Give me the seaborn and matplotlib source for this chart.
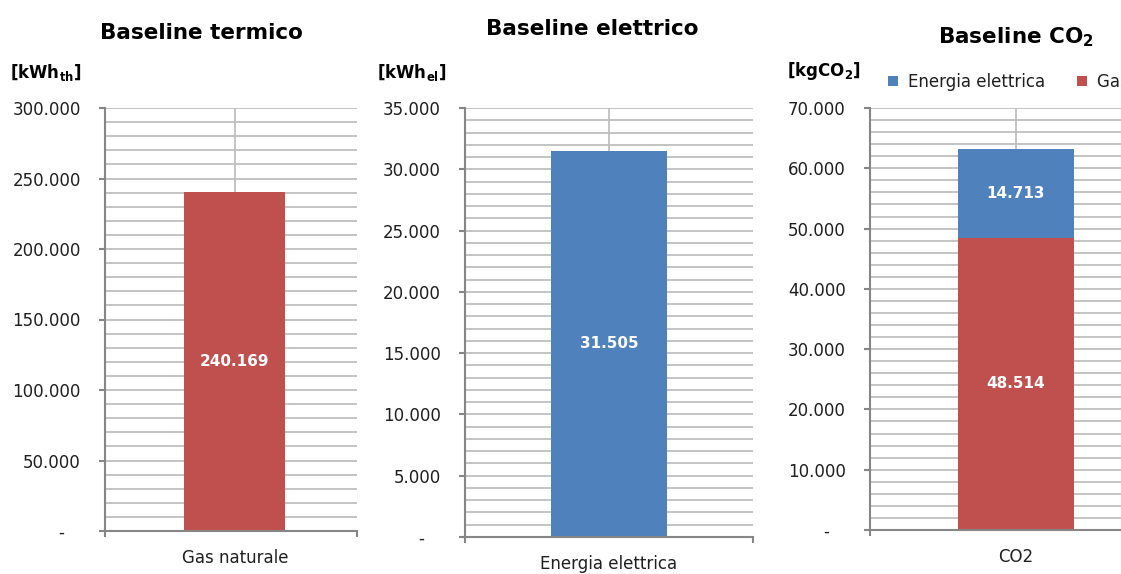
import matplotlib
matplotlib.use("Agg")
import matplotlib.pyplot as plt
from matplotlib.ticker import MultipleLocator, FuncFormatter
from matplotlib.patches import Patch
import seaborn as sns
import pandas as pd

# ---- data -------------------------------------------------------------
thermal_cat = ["Gas naturale"]
thermal_kwh = [240169]

electric_cat = ["Energia elettrica"]
electric_kwh = [31505]

co2_cat = ["CO2"]
co2_gas = [48514]
co2_electric = [14713]

legend_labels = ["Energia elettrica", "Gas naturale"]

# ---- style ------------------------------------------------------------
sns.set_theme(style="white")
plt.rcParams["font.family"] = ["DejaVu Sans"]
plt.rcParams["mathtext.fontset"] = "dejavusans"

RED = "#C0504D"
BLUE = "#4F81BD"
GRID = "#BFBFBF"
AXIS = "#868686"
TEXT = "#1F1F1F"

W, H = 1121, 574
fig = plt.figure(figsize=(W / 100, H / 100), dpi=100)
fig.patch.set_facecolor("white")


def px_axes(left, right, top, bottom):
    return fig.add_axes([left / W, 1 - bottom / H, (right - left) / W, (bottom - top) / H])


def it_fmt(v, pos=None):
    if abs(v) < 1e-9:
        return "-   "
    return f"{v:,.0f}".replace(",", ".")


def style_axes(ax, ymax, major, minor, xlim):
    ax.set_ylim(0, ymax)
    ax.set_xlim(*xlim)
    ax.yaxis.set_major_locator(MultipleLocator(major))
    ax.yaxis.set_minor_locator(MultipleLocator(minor))
    ax.yaxis.set_major_formatter(FuncFormatter(it_fmt))
    ax.grid(axis="y", which="both", color=GRID, linewidth=1.3)
    ax.grid(axis="x", which="major", color=GRID, linewidth=1.3)
    ax.set_axisbelow(True)
    for s in ("top", "right"):
        ax.spines[s].set_visible(False)
    for s in ("left", "bottom"):
        ax.spines[s].set_color(AXIS)
        ax.spines[s].set_linewidth(1.5)
    ax.tick_params(axis="y", which="major", left=True, length=4.5, width=1.5,
                   color=AXIS, pad=13, labelsize=12, labelcolor=TEXT)
    ax.tick_params(axis="y", which="minor", left=False)
    ax.set_xticks([xlim[0], xlim[1]], minor=True)
    ax.tick_params(axis="x", which="minor", bottom=True, length=4.5, width=1.5,
                   color=AXIS, direction="out")
    ax.tick_params(axis="x", which="major", bottom=False, length=0, pad=13,
                   labelsize=12, labelcolor=TEXT)
    ax.set_xlabel("")
    ax.set_ylabel("")
    ax.set_facecolor("white")


def center_label(ax, y, value):
    ax.text(0, y, it_fmt(value), ha="center", va="center", color="white",
            fontsize=11, fontweight="bold")


bar_kw = dict(saturation=1, width=0.4, linewidth=0, edgecolor="none")

# ---- panel 1: thermal baseline ----------------------------------------
ax1 = px_axes(105, 357, 108, 531)
df1 = pd.DataFrame({"cat": thermal_cat, "val": thermal_kwh})
sns.barplot(data=df1, x="cat", y="val", color=RED, ax=ax1, **bar_kw)
style_axes(ax1, 300000, 50000, 10000, (-0.515, 0.485))
center_label(ax1, thermal_kwh[0] / 2, thermal_kwh[0])

# ---- panel 2: electric baseline ---------------------------------------
ax2 = px_axes(465, 753, 108, 537)
df2 = pd.DataFrame({"cat": electric_cat, "val": electric_kwh})
sns.barplot(data=df2, x="cat", y="val", color=BLUE, ax=ax2, **bar_kw)
style_axes(ax2, 35000, 5000, 1000, (-0.5, 0.5))
center_label(ax2, electric_kwh[0] / 2, electric_kwh[0])

# ---- panel 3: CO2 baseline, stacked -----------------------------------
ax3 = px_axes(870, 1162, 108, 530)
co2_total = [g + e for g, e in zip(co2_gas, co2_electric)]
df3 = pd.DataFrame({"cat": co2_cat, "total": co2_total, "gas": co2_gas})
sns.barplot(data=df3, x="cat", y="total", color=BLUE, ax=ax3, **bar_kw)
sns.barplot(data=df3, x="cat", y="gas", color=RED, ax=ax3, **bar_kw)
style_axes(ax3, 70000, 10000, 2000, (-0.5, 0.5))
center_label(ax3, co2_gas[0] / 2, co2_gas[0])
center_label(ax3, co2_gas[0] + co2_electric[0] / 2, co2_electric[0])

# legend runs past the right edge of the figure, as the panel itself does
handles = [Patch(facecolor=BLUE, edgecolor="none"), Patch(facecolor=RED, edgecolor="none")]
fig.legend(handles, legend_labels, loc="center left", bbox_to_anchor=(888 / W, 1 - 82 / H),
           ncol=2, frameon=False, fontsize=12, handlelength=0.6, handleheight=0.6,
           handletextpad=0.6, columnspacing=1.9, borderpad=0, borderaxespad=0,
           labelcolor=TEXT)

# ---- titles and unit labels -------------------------------------------
title_kw = dict(ha="center", va="baseline", fontsize=15.5, fontweight="bold", color="black")
fig.text(201 / W, 1 - 39 / H, "Baseline termico", **title_kw)
fig.text(592 / W, 1 - 35 / H, "Baseline elettrico", **title_kw)
fig.text(1016 / W, 1 - 43 / H, r"Baseline CO$_\mathbf{2}$", **title_kw)

unit_kw = dict(ha="left", va="baseline", fontsize=12, fontweight="bold", color="black")
fig.text(10 / W, 1 - 78 / H, r"[kWh$_\mathbf{th}$]", **unit_kw)
fig.text(377 / W, 1 - 78 / H, r"[kWh$_\mathbf{el}$]", **unit_kw)
fig.text(787 / W, 1 - 76 / H, r"[kgCO$_\mathbf{2}$]", **unit_kw)

fig.savefig("out.png", dpi=100, facecolor="white")
